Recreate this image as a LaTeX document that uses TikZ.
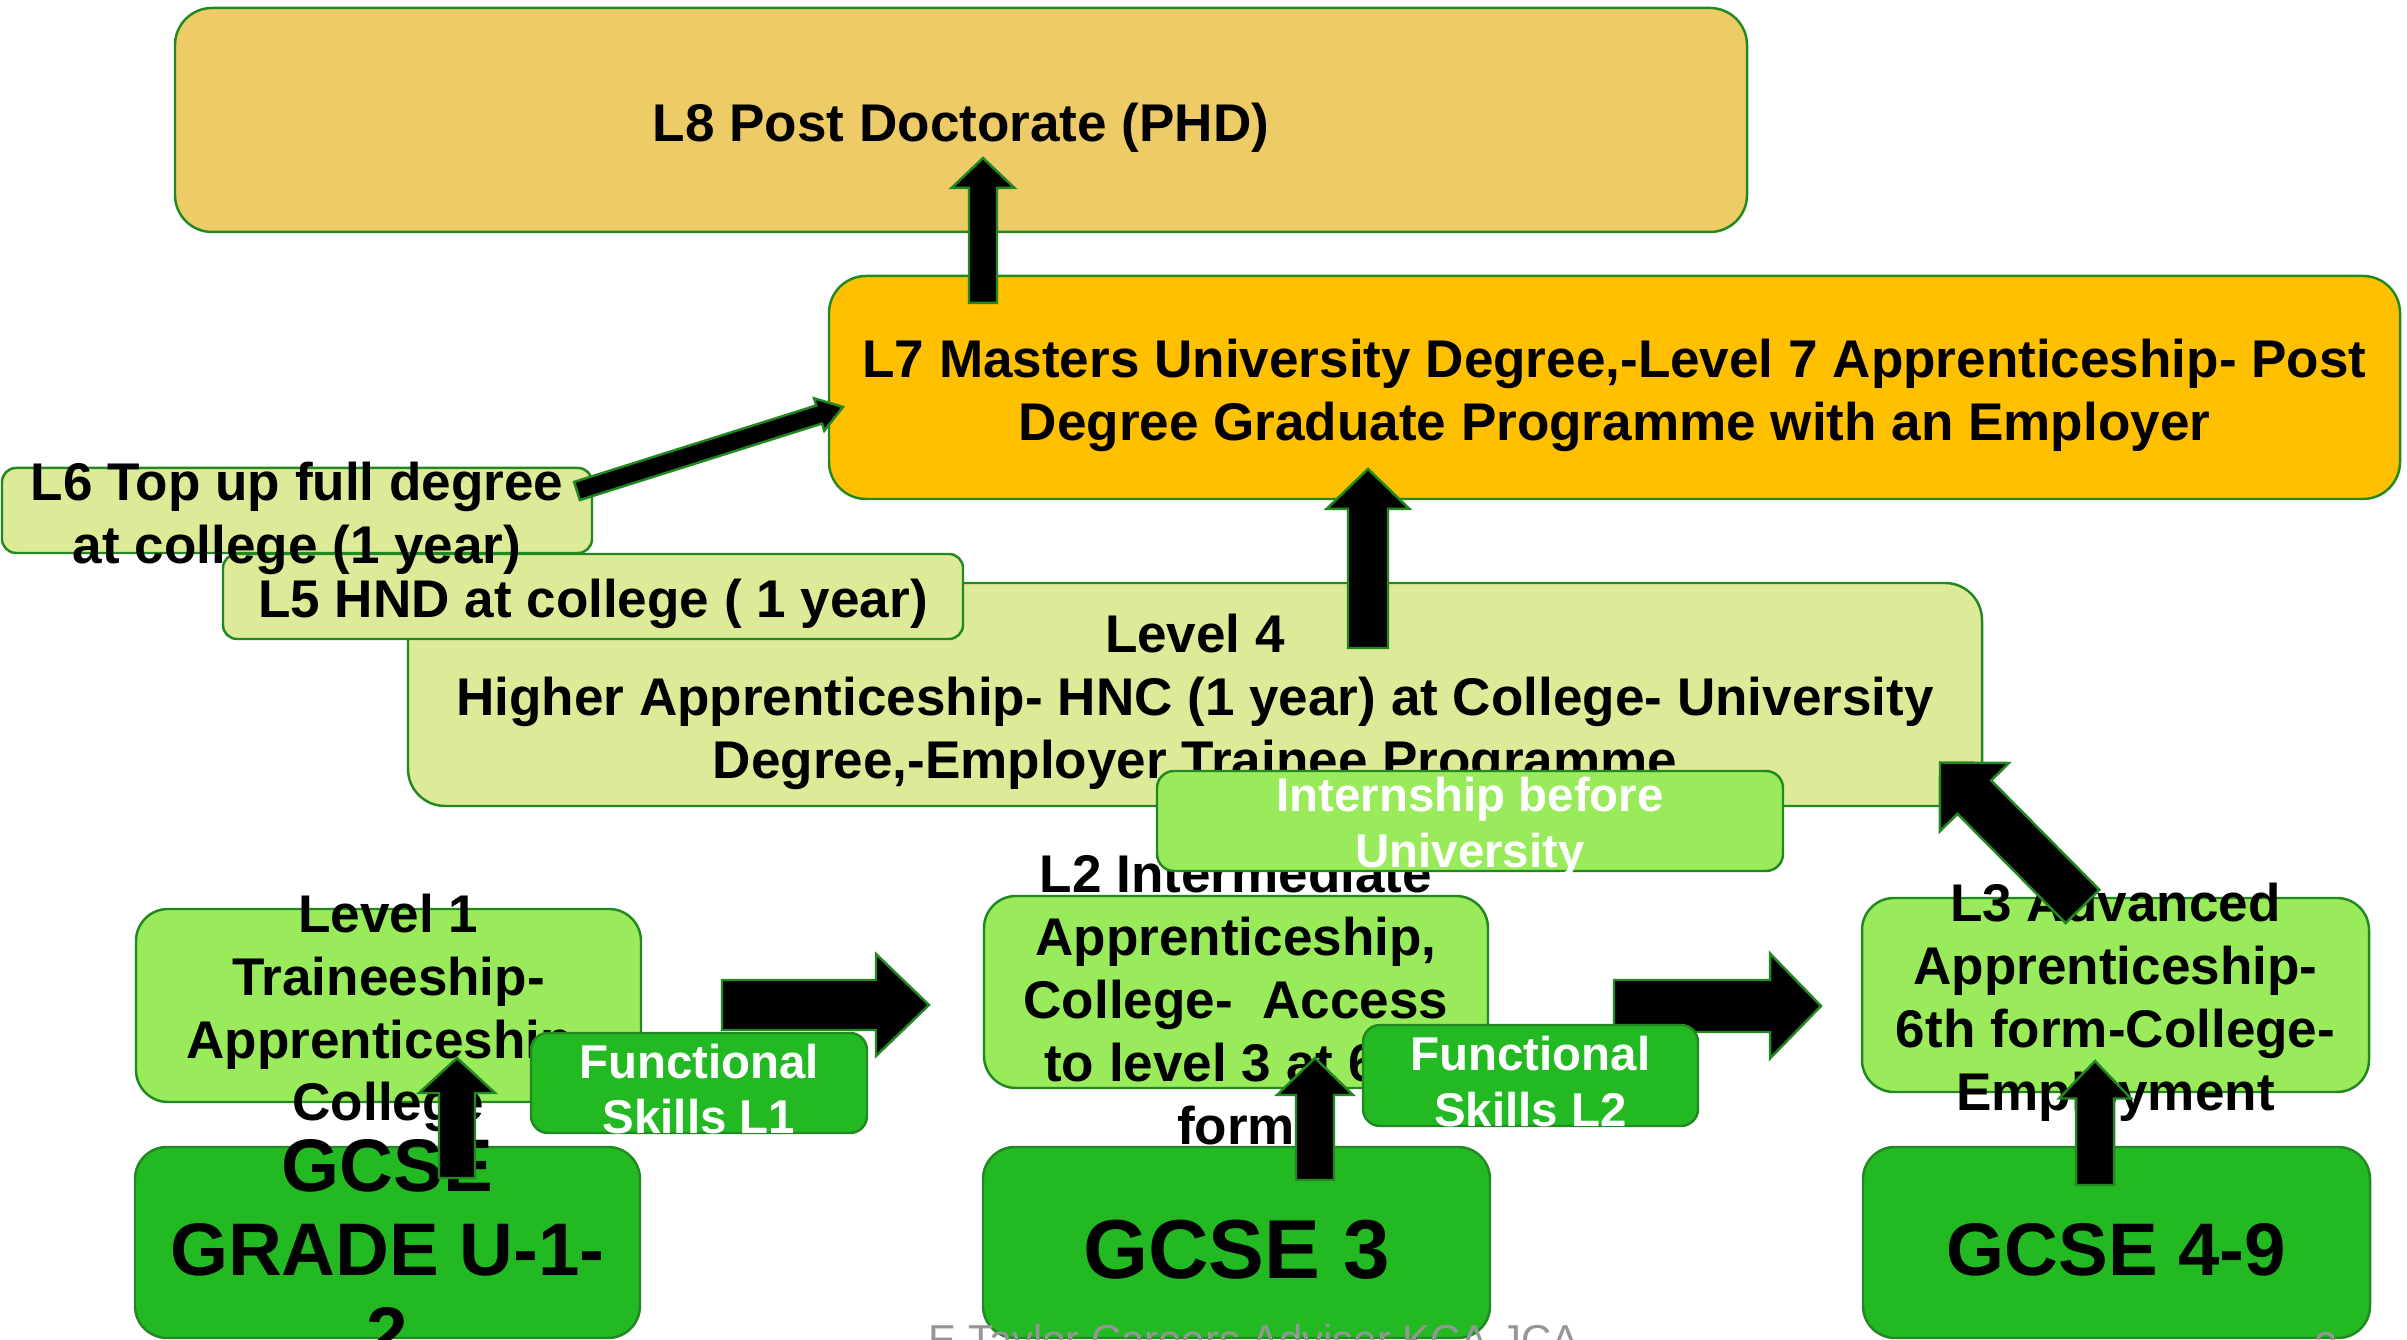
\documentclass[tikz,border=0pt]{standalone}
\usepackage{fontspec}
\setmainfont{Liberation Sans}
\usetikzlibrary{calc}
\definecolor{edge}{RGB}{34,136,34}
\definecolor{gold}{RGB}{237,204,104}
\definecolor{amber}{RGB}{255,192,0}
\definecolor{paleolive}{RGB}{221,235,153}
\definecolor{lightgreen}{RGB}{153,235,92}
\definecolor{midgreen}{RGB}{34,185,34}
\definecolor{footgrey}{RGB}{150,150,150}
\begin{document}
\begin{tikzpicture}[
  panel/.style={draw=edge, line width=0.7pt, inner sep=0pt},
  txt/.style={align=center, inner sep=0pt, yshift=-0.075cm, font=\fontsize{15.1}{17.9}\selectfont\bfseries},
  small/.style={align=center, inner sep=0pt, yshift=-0.06cm, text=white, font=\fontsize{13.5}{15.9}\selectfont\bfseries},
  big/.style={align=center, inner sep=0pt, yshift=-0.07cm, font=\fontsize{21.2}{23.9}\selectfont\bfseries},
  blockarrow/.style={fill=black, draw=edge, line width=0.7pt}]
% tail, tip, half shaft, half head, head length
\newcommand\BlockArrow[5]{
  \path ($(#2)!#5!(#1)$) coordinate (hb);
  \filldraw[blockarrow] ($(#1)!#3!90:(#2)$) -- ($(hb)!#3!90:(#2)$) -- ($(hb)!#4!90:(#2)$) -- (#2)
    -- ($(hb)!#4!-90:(#2)$) -- ($(hb)!#3!-90:(#2)$) -- ($(#1)!#3!-90:(#2)$) -- cycle;
}
\useasboundingbox (0,0) rectangle (24.07,13.40);

% top levels
\node[panel, fill=gold, rounded corners=0.37cm, minimum width=15.72cm, minimum height=2.24cm] (l8) at (9.61,12.20) {};
\node[txt] (l8t) at (l8) {L8 Post Doctorate (PHD)};
\node[panel, fill=amber, rounded corners=0.37cm, minimum width=15.71cm, minimum height=2.23cm] (l7) at (16.145,9.525) {};
\node[txt] (l7t) at (l7) {L7 Masters University Degree,-Level 7 Apprenticeship- Post\\Degree Graduate Programme with an Employer};
\coordinate (l7-up) at (9.83,10.37);
\coordinate (l8-in) at (9.83,11.82);
\BlockArrow{l7-up}{l8-in}{0.14cm}{0.315cm}{0.30cm}

\node[panel, fill=paleolive, rounded corners=0.37cm, minimum width=15.74cm, minimum height=2.23cm] (l4) at (11.95,6.455) {};
\node[txt] (l4t) at (l4) {Level 4\\Higher Apprenticeship- HNC (1 year) at College- University\\Degree,-Employer Trainee Programme};
\node[panel, fill=paleolive, rounded corners=0.14cm, minimum width=7.40cm, minimum height=0.85cm] (l5) at (5.93,7.435) {};
\node[txt] (l5t) at (l5) {L5 HND at college ( 1 year)};
\node[panel, fill=paleolive, rounded corners=0.14cm, minimum width=5.90cm, minimum height=0.85cm] (l6) at (2.97,8.295) {};
\node[txt] (l6t) at (l6) {L6 Top up full degree\\at college (1 year)};
\coordinate (l6-out) at (5.77,8.49);
\coordinate (l7-in) at (8.43,9.33);
\BlockArrow{l6-out}{l7-in}{0.095cm}{0.17cm}{0.25cm}
\coordinate (l4-up) at (13.68,6.92);
\coordinate (l7-low) at (13.68,8.71);
\BlockArrow{l4-up}{l7-low}{0.20cm}{0.415cm}{0.40cm}

% levels 1 to 3
\node[panel, fill=lightgreen, rounded corners=0.32cm, minimum width=5.05cm, minimum height=1.93cm] (l1) at (3.885,3.345) {};
\node[txt] (l1t) at (l1) {Level 1\\Traineeship-\\Apprenticeship-\\College};
\node[panel, fill=lightgreen, rounded corners=0.32cm, minimum width=5.04cm, minimum height=1.92cm] (l2) at (12.36,3.48) {};
\node[txt] (l2t) at (l2) {L2 Intermediate\\Apprenticeship,\\College-~ Access\\to level 3 at 6th\\form};
\node[panel, fill=lightgreen, rounded corners=0.32cm, minimum width=5.07cm, minimum height=1.94cm] (l3) at (21.155,3.45) {};
\node[txt] (l3t) at (l3) {L3 Advanced\\Apprenticeship-\\6th form-College-\\Employment};
\node[panel, fill=lightgreen, rounded corners=0.17cm, minimum width=6.26cm, minimum height=1.0cm] (intern) at (14.70,5.19) {};
\node[small] (internt) at (intern) {Internship before\\University};
\coordinate (l3-up) at (20.825,4.335);
\coordinate (l4-in) at (19.40,5.775);
\BlockArrow{l3-up}{l4-in}{0.237cm}{0.486cm}{0.488cm}

% gcse
\node[panel, fill=midgreen, rounded corners=0.32cm, minimum width=5.05cm, minimum height=1.91cm] (gcse1) at (3.875,0.975) {};
\node[big] (gcse1t) at (gcse1) {GCSE\\GRADE U-1-\\2};
\node[panel, fill=midgreen, rounded corners=0.32cm, minimum width=5.07cm, minimum height=1.91cm] (gcse3) at (12.365,0.975) {};
\node[big, font=\fontsize{23.8}{26}\selectfont\bfseries] (gcse3t) at (gcse3) {GCSE 3};
\node[panel, fill=midgreen, rounded corners=0.32cm, minimum width=5.07cm, minimum height=1.91cm] (gcse49) at (21.165,0.975) {};
\node[big] (gcse49t) at (gcse49) {GCSE 4-9};

\coordinate (l1-out) at (7.22,3.35);
\coordinate (l2-in) at (9.29,3.35);
\BlockArrow{l1-out}{l2-in}{0.25cm}{0.51cm}{0.53cm}
\coordinate (l2-out) at (16.14,3.34);
\coordinate (l3-in) at (18.21,3.34);
\BlockArrow{l2-out}{l3-in}{0.26cm}{0.525cm}{0.51cm}

\node[panel, fill=midgreen, rounded corners=0.17cm, minimum width=3.36cm, minimum height=1.0cm] (fs1) at (6.99,2.57) {};
\node[small] (fs1t) at (fs1) {Functional\\Skills L1};
\node[panel, fill=midgreen, rounded corners=0.17cm, minimum width=3.35cm, minimum height=1.01cm] (fs2) at (15.305,2.645) {};
\node[small] (fs2t) at (fs2) {Functional\\Skills L2};

\coordinate (gcse1-up) at (4.57,1.62);
\coordinate (l1-low) at (4.57,2.82);
\BlockArrow{gcse1-up}{l1-low}{0.18cm}{0.38cm}{0.35cm}
\coordinate (gcse3-up) at (13.15,1.60);
\coordinate (l2-low) at (13.15,2.82);
\BlockArrow{gcse3-up}{l2-low}{0.19cm}{0.38cm}{0.37cm}
\coordinate (gcse49-up) at (20.95,1.55);
\coordinate (l3-low) at (20.95,2.79);
\BlockArrow{gcse49-up}{l3-low}{0.19cm}{0.36cm}{0.375cm}

% footer
\node[anchor=base, text=footgrey, font=\fontsize{11.9}{14}\selectfont] (foot) at (12.54,-0.15) {E Taylor Careers Adviser KCA JCA};
\node[anchor=base, text=footgrey, font=\fontsize{11.9}{14}\selectfont] (page) at (23.26,-0.22) {2};
\end{tikzpicture}
\end{document}
